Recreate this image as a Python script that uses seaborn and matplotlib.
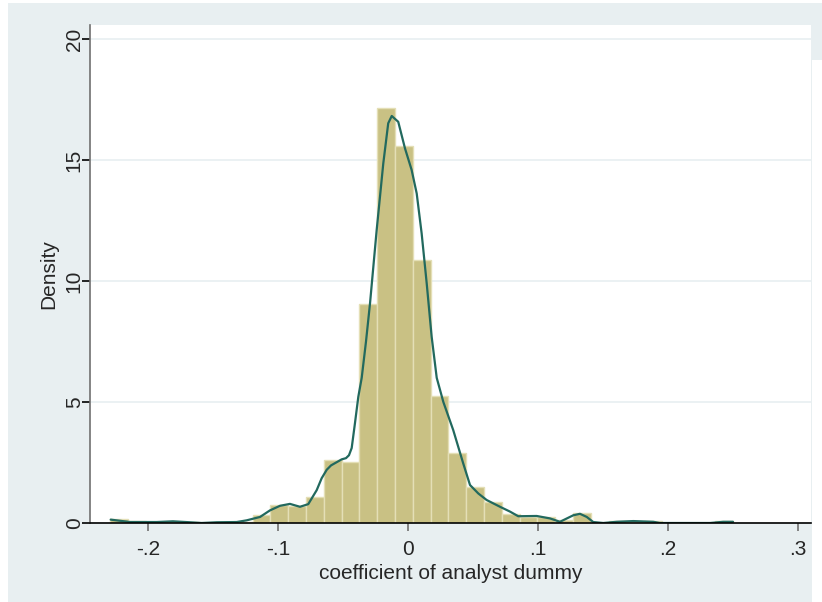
import numpy as np
import pandas as pd
import matplotlib
matplotlib.use("Agg")
import matplotlib.pyplot as plt
import seaborn as sns
from matplotlib.patches import Rectangle
from matplotlib.ticker import FuncFormatter

# histogram: 35 equal bins from -0.229, heights as density
bin_start = -0.229
bin_width = 0.01369
bar_density = [0.17, 0.07, 0.06, 0.05, 0.06, 0.00, 0.04, 0.05, 0.32, 0.75,
               0.72, 1.06, 2.62, 2.53, 9.05, 17.14, 15.58, 10.87, 5.25, 2.88,
               1.47, 0.88, 0.39, 0.25, 0.25, 0.11, 0.42, 0.00, 0.08, 0.04,
               0.08, 0.00, 0.00, 0.00, 0.09]

# kernel density curve
kde_x = [-0.2287, -0.2138, -0.1933, -0.1808, -0.1677, -0.1587, -0.1472, -0.1318,
         -0.1241, -0.1138, -0.1062, -0.0985, -0.0908, -0.0831, -0.0767, -0.0702,
         -0.0664, -0.0625, -0.0592, -0.0510, -0.0477, -0.0454, -0.0433, -0.0408,
         -0.0382, -0.0356, -0.0323, -0.0292, -0.0241, -0.0190, -0.0152, -0.0125,
         -0.0075, -0.0023, 0.0028, 0.0067, 0.0105, 0.0144, 0.0182, 0.0221,
         0.0272, 0.0348, 0.0425, 0.0477, 0.0541, 0.0605, 0.0708, 0.0785,
         0.0848, 0.0990, 0.1092, 0.1169, 0.1272, 0.1323, 0.1375, 0.1425,
         0.1502, 0.1605, 0.1733, 0.1887, 0.1938, 0.2323, 0.2425, 0.2500]
kde_y = [0.14, 0.04, 0.04, 0.07, 0.03, 0.00, 0.03, 0.04,
         0.11, 0.25, 0.52, 0.71, 0.79, 0.67, 0.78, 1.36,
         1.85, 2.20, 2.38, 2.63, 2.68, 2.80, 3.10, 4.12,
         5.22, 6.00, 7.50, 9.08, 12.10, 14.86, 16.52, 16.82,
         16.58, 15.48, 14.59, 13.62, 11.97, 9.90, 7.70, 6.00,
         5.00, 3.84, 2.46, 1.57, 1.22, 0.95, 0.67, 0.47,
         0.28, 0.29, 0.19, 0.05, 0.32, 0.38, 0.25, 0.04,
         0.00, 0.05, 0.08, 0.05, 0.00, 0.00, 0.05, 0.05]

x_ticks = [-0.2, -0.1, 0, 0.1, 0.2, 0.3]
y_ticks = [0, 5, 10, 15, 20]

BG = "#e8eff1"
BAR = "#c9c184"
LINE = "#22695e"

n_bins = len(bar_density)
bin_mid = bin_start + bin_width * (np.arange(n_bins) + 0.5)
hist_df = pd.DataFrame({"x": bin_mid, "w": bar_density})
kde_df = pd.DataFrame({"x": kde_x, "y": kde_y})

sns.set_style("white")
plt.rcParams["font.family"] = ["Liberation Sans", "DejaVu Sans"]

fig = plt.figure(figsize=(8.22, 6.02), dpi=100, facecolor="white")
# light graph region behind the white plot area
fig.patches.append(Rectangle((8 / 822, 0), 804 / 822, 599 / 602,
                             transform=fig.transFigure, facecolor=BG,
                             edgecolor="none", zorder=-10))
fig.patches.append(Rectangle((8 / 822, 542 / 602), 814 / 822, 57 / 602,
                             transform=fig.transFigure, facecolor=BG,
                             edgecolor="none", zorder=-10))

ax = fig.add_axes([90 / 822, 1 - 523 / 602, 721 / 822, 498 / 602])
ax.set_zorder(1)
ax.set_facecolor("white")

sns.histplot(data=hist_df, x="x", weights="w", stat="count",
             binwidth=bin_width,
             binrange=(bin_start, bin_start + bin_width * n_bins),
             color=BAR, alpha=1, edgecolor="#e4dfb6", linewidth=1.0, ax=ax)
sns.lineplot(data=kde_df, x="x", y="y", color=LINE, linewidth=1.6, ax=ax)

ax.set_xlim(-0.2446, 0.3100)
ax.set_ylim(0, 20.58)
ax.set_xticks(x_ticks)
ax.set_yticks(y_ticks)

def stata_fmt(v, pos):
    s = f"{v:g}"
    if s.startswith("0."):
        s = s[1:]
    elif s.startswith("-0."):
        s = "-" + s[2:]
    return s

ax.xaxis.set_major_formatter(FuncFormatter(stata_fmt))
ax.grid(axis="y", color=BG, linewidth=1.2)
ax.set_axisbelow(True)

for side in ["top", "right"]:
    ax.spines[side].set_visible(False)
ax.spines["left"].set_color("#707070")
ax.spines["bottom"].set_color("black")
ax.spines["left"].set_linewidth(1.2)
ax.spines["bottom"].set_linewidth(1.2)

ax.tick_params(axis="x", length=6, width=1.2, color="#707070",
               labelsize=15, pad=6, direction="out", bottom=True)
ax.tick_params(axis="y", length=6, width=1.2, color="black",
               labelsize=15, pad=-1.5, direction="out", left=True,
               labelrotation=90)
for lab in ax.get_yticklabels():
    lab.set_va("center")

ax.set_xlabel("coefficient of analyst dummy", fontsize=15, labelpad=3.5)
ax.set_ylabel("Density", fontsize=15, labelpad=4.5)

fig.savefig("out.png", dpi=100, facecolor=fig.get_facecolor())
